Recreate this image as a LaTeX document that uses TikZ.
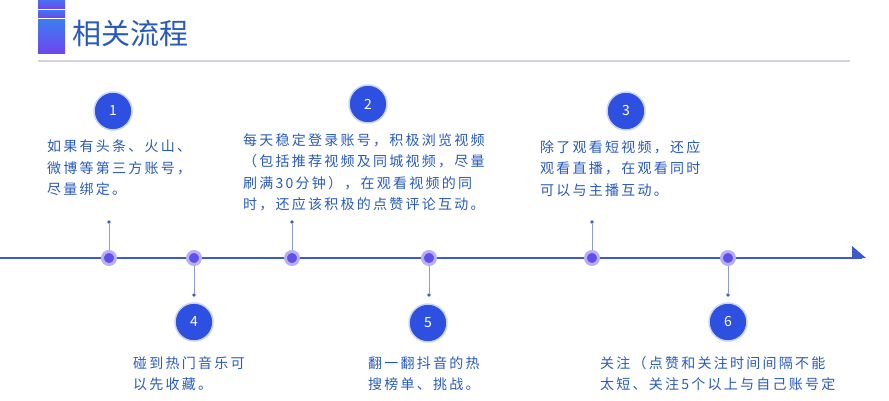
\documentclass[tikz,border=0pt]{standalone}
\usepackage{fontspec}
\newfontfamily\cjk{Noto Sans CJK SC}
\newfontfamily\cjkwide[LetterSpace=16]{Noto Sans CJK SC}
\usetikzlibrary{positioning,shapes.geometric}
\definecolor{txtblue}{RGB}{40,90,190}
\definecolor{lineblue}{RGB}{60,90,200}
\definecolor{numblue}{RGB}{45,80,225}
\definecolor{dotin}{RGB}{95,80,235}
\definecolor{dotout}{RGB}{185,175,245}
\definecolor{bartop}{RGB}{60,125,240}
\definecolor{barbot}{RGB}{110,70,240}
\tikzset{
  stepnum/.style={circle, fill=numblue, draw=numblue!25, line width=1.5pt, minimum size=38pt, inner sep=0pt, text=white, font=\cjk\fontsize{14}{14}\selectfont},
  tdot/.style={circle, fill=dotin, draw=dotout, line width=3pt, minimum size=13pt, inner sep=0pt},
  tip/.style={diamond, fill=lineblue, inner sep=0pt, minimum size=4pt},
  desc/.style={anchor=north west, align=left, text=txtblue, inner sep=0pt, font=\cjkwide\fontsize{14}{21.5}\selectfont},
  stem/.style={draw=lineblue!60, line width=0.8pt},
  bar/.style={top color=bartop, bottom color=barbot}
}
\begin{document}
\begin{tikzpicture}[x=1pt, y=-1pt]
  \useasboundingbox (0,0) rectangle (889,400);
  \clip (0,0) rectangle (889,400);
  % The title:
  \shade[bar] (38,-2) rectangle (65,8);
  \shade[bar] (38,10) rectangle (65,17);
  \shade[bar] (38,19) rectangle (65,53);
  \node[anchor=west, inner sep=0pt, text=txtblue, font=\cjk\fontsize{29}{29}\selectfont] (title) at (72,33) {相关流程};
  \draw[blue!15!gray!30, line width=1.2pt] (38,61) -- (850,61);
  % Timeline:
  \draw[lineblue, line width=1.3pt] (0,258) -- (862,258);
  \fill[lineblue] (852,246) -- (866,258) -- (852,258) -- cycle;
  \foreach \n/\x in {1/109, 4/194, 2/292, 5/429, 3/592, 6/728}
    \node[tdot] (d\n) at (\x,258) {};
  % Steps above:
  \foreach \n/\x in {1/109, 2/292, 3/592}
    \node[tip] (t\n) at (\x,222) {};
  % Steps below:
  \foreach \n/\x in {4/194, 5/429, 6/728}
    \node[tip] (t\n) at (\x,295) {};
  \foreach \n in {1,...,6}
    \draw[stem] (d\n) -- (t\n);
  \node[stepnum] (c1) at (113,111) {1};
  \node[stepnum] (c2) at (368,104) {2};
  \node[stepnum] (c3) at (626,111) {3};
  \node[stepnum] (c4) at (194,322) {4};
  \node[stepnum] (c5) at (428,323) {5};
  \node[stepnum] (c6) at (728,322) {6};
  % Labels:
  \node[desc] (l1) at (47,140) {如果有头条、火山、\\微博等第三方账号，\\尽量绑定。};
  \node[desc] (l2) at (243,133) {每天稳定登录账号，积极浏览视频\\（包括推荐视频及同城视频，尽量\\刷满30分钟），在观看视频的同\\时，还应该积极的点赞评论互动。};
  \node[desc] (l3) at (540,140) {除了观看短视频，还应\\观看直播，在观看同时\\可以与主播互动。};
  \node[desc] (l4) at (133,356) {碰到热门音乐可\\以先收藏。};
  \node[desc] (l5) at (368,356) {翻一翻抖音的热\\搜榜单、挑战。};
  \node[desc] (l6) at (600,356) {关注（点赞和关注时间间隔不能\\太短、关注5个以上与自己账号定};
\end{tikzpicture}
\end{document}
